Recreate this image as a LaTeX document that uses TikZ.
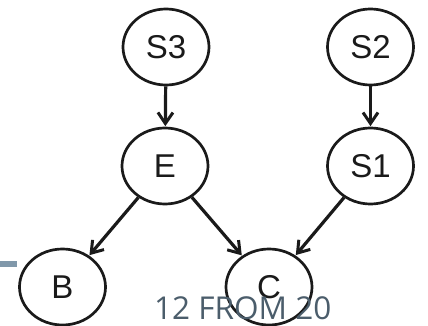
\documentclass[tikz,border=0pt]{standalone}
\usepackage{fontspec}
\setmainfont{Liberation Sans}
\newfontfamily\captionfont{Open Sans}
\usetikzlibrary{shapes.geometric,arrows.meta}
\definecolor{inkdark}{HTML}{1A1A1A}
\definecolor{slatetext}{HTML}{4B5D6B}
\definecolor{slatebar}{HTML}{8098AA}
\tikzset{
  var/.style={ellipse, draw=inkdark, line width=2.7pt, minimum width=86pt,
    minimum height=76pt, inner sep=0pt, text=inkdark,
    font=\fontsize{33}{33}\selectfont},
  link/.style={draw=inkdark, line width=3.2pt,
    -{Straight Barb[length=11pt,width=15pt,line width=3pt]}, shorten >=0.5pt}
}
\begin{document}
\begin{tikzpicture}[x=1pt,y=-1pt]
  \useasboundingbox (0,0) rectangle (428,326);
  % accent bar on the left edge
  \fill[slatebar] (0,261) rectangle (17,267);
  % variables
  \node[var] (s3) at (166,47) {S3};
  \node[var] (s2) at (370.5,47) {S2};
  \node[var] (e)  at (165,166) {E};
  \node[var] (s1) at (370.5,166) {S1};
  \node[var] (b)  at (62.5,287) {B};
  \node[var] (c)  at (269,287) {C};
  % dependencies
  \draw[link] (s3) -- (e);
  \draw[link] (s2) -- (s1);
  \draw[link] (e) -- (b);
  \draw[link] (e) -- (c);
  \draw[link] (s1) -- (c);
  % page counter
  \node[anchor=base west, inner sep=0pt, text=slatetext,
    font=\captionfont\fontsize{31.5}{31.5}\selectfont] (counter) at (154,319) {12 FROM 20};
\end{tikzpicture}
\end{document}
